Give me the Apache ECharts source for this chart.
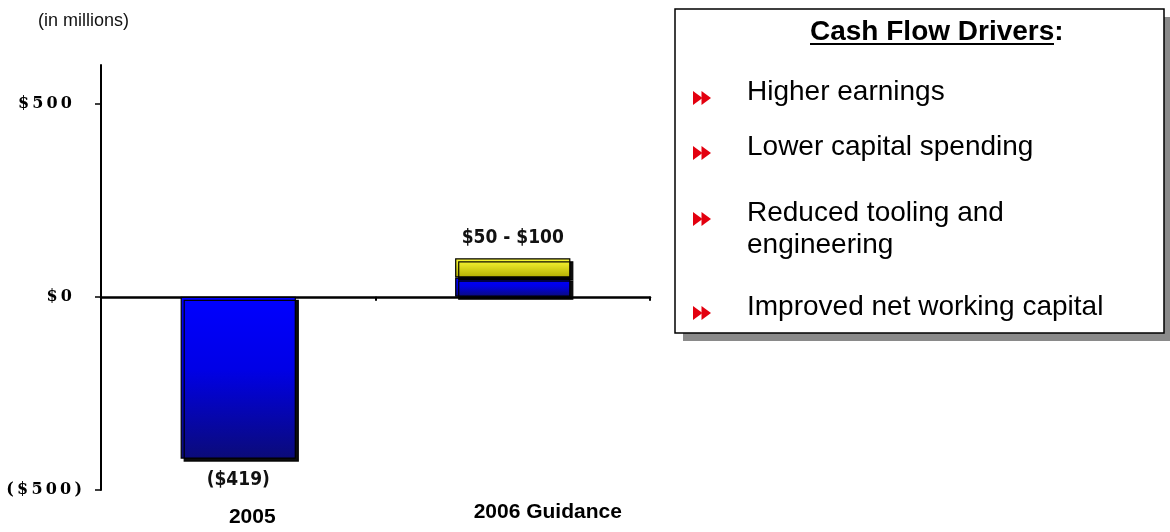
<!DOCTYPE html>
<html>
<head>
<meta charset="utf-8">
<script src="https://cdn.jsdelivr.net/npm/echarts@6/dist/echarts.min.js"></script>
<style>
  html, body { margin: 0; padding: 0; background: #ffffff; }
  #chart { width: 1170px; height: 532px; }
</style>
</head>
<body>
<div id="chart"></div>
<script>
// Free cash flow: 2005 actual and 2006 guidance range (in millions)
const categories = ['2005', '2006 Guidance'];
const baseValues = [-419, 50];        // 2005 actual, 2006 guidance low end
const rangeHighValues = [null, 100];  // 2006 guidance high end
const yTickValues = [-500, 0, 500];
const unitNote = '(in millions)';
const driversTitle = 'Cash Flow Drivers';
const driverItems = [
  ['Higher earnings'],
  ['Lower capital spending'],
  ['Reduced tooling and', 'engineering'],
  ['Improved net working capital']
];

// Yellow segment spans from the low end to the high end of the guidance
const rangeSpan = rangeHighValues.map((h, i) => (h == null ? null : h - baseValues[i]));

const money = v => (v < 0 ? '($' + (-v) + ')' : '$' + v);
const spaced = s => s.split('').join('\u2009');

const chart = echarts.init(document.getElementById('chart'), null, { renderer: 'canvas' });

const labelFont = {
  fontFamily: '"DejaVu Sans Condensed", "DejaVu Sans", sans-serif',
  fontWeight: 'bold',
  fontSize: 19,
  color: '#111'
};

const barEdge = {
  borderColor: '#000',
  borderWidth: 1.2,
  shadowColor: 'rgba(0,0,0,0.95)',
  shadowBlur: 0,
  shadowOffsetX: 3,
  shadowOffsetY: 3
};

// Bullet glyph: two small red triangles pointing right
function bullet(x, y) {
  const tri = dx => ({
    type: 'polygon',
    shape: { points: [[x + dx, y - 7], [x + dx + 9.5, y], [x + dx, y + 7]] },
    style: { fill: '#e3000f' }
  });
  return [tri(0), tri(8.5)];
}

// Right-hand text box with a flat grey drop shadow
const boxElements = [];
boxElements.push({
  type: 'rect',
  shape: { x: 683, y: 17, width: 489, height: 324 },
  style: { fill: '#8a8a8a' }
});
boxElements.push({
  type: 'rect',
  shape: { x: 675, y: 9, width: 489, height: 324 },
  style: { fill: '#ffffff', stroke: '#000', lineWidth: 1.5 }
});
boxElements.push({
  type: 'text', x: 810, y: 32,
  style: {
    text: driversTitle + ':', fill: '#000',
    font: 'bold 28px "Liberation Sans", Arial, sans-serif', verticalAlign: 'middle', align: 'left'
  }
});
boxElements.push({
  type: 'line',
  shape: { x1: 810, y1: 44, x2: 1054, y2: 44 },
  style: { stroke: '#000', lineWidth: 2 }
});

const lineCenters = [[92], [147], [213, 245], [307]];
driverItems.forEach((lines, i) => {
  boxElements.push(...bullet(693, lineCenters[i][0] + 6));
  lines.forEach((t, j) => {
    boxElements.push({
      type: 'text', x: 747, y: lineCenters[i][j],
      style: {
        text: t, fill: '#000',
        font: '28px "Liberation Sans", Arial, sans-serif', verticalAlign: 'middle', align: 'left'
      }
    });
  });
});

boxElements.push({
  type: 'text', x: 38, y: 21,
  style: {
    text: unitNote, fill: '#111',
    font: '18px "Liberation Sans", Arial, sans-serif', verticalAlign: 'middle', align: 'left'
  }
});

const option = {
  backgroundColor: '#ffffff',
  animation: false,
  grid: { left: 101, right: 520, top: 65, bottom: 42, containLabel: false },
  xAxis: [
    {
      type: 'category',
      data: categories,
      axisLine: { onZero: true, lineStyle: { color: '#000', width: 2.5 } },
      axisTick: { show: true, length: 4, lineStyle: { color: '#000', width: 2 } },
      axisLabel: { show: false },
      splitLine: { show: false }
    },
    {
      type: 'category',
      data: categories,
      position: 'bottom',
      axisLine: { show: false },
      axisTick: { show: false },
      splitLine: { show: false },
      axisLabel: {
        interval: 0,
        margin: 12,
        formatter: v => (v === '2005' ? '{a|' + v + '}' : '{b|' + v + '}'),
        rich: {
          a: {
            fontFamily: '"Liberation Sans", Arial, sans-serif', fontWeight: 'bold', fontSize: 21,
            color: '#000', padding: [5, 0, 0, 28]
          },
          b: {
            fontFamily: '"Liberation Sans", Arial, sans-serif', fontWeight: 'bold', fontSize: 21,
            color: '#000', padding: [0, 0, 0, 70]
          }
        }
      }
    }
  ],
  yAxis: {
    type: 'value',
    min: -500,
    max: 600,
    interval: 100,
    splitLine: { show: false },
    axisLine: { show: true, lineStyle: { color: '#000', width: 2 } },
    axisTick: {
      show: true, length: 6, customValues: yTickValues,
      lineStyle: { color: '#000', width: 1.5 }
    },
    axisLabel: {
      customValues: yTickValues,
      margin: 19,
      formatter: v => (v < 0 ? '{n|' + spaced(money(v)) + '}' : '{p|' + spaced(money(v)) + '}'),
      rich: {
        n: { fontFamily: '"DejaVu Serif", serif', fontWeight: 'bold', fontSize: 16, color: '#000' },
        p: { fontFamily: '"DejaVu Serif", serif', fontWeight: 'bold', fontSize: 16, color: '#000', padding: [0, 10, 0, 0] }
      }
    }
  },
  series: [
    {
      name: 'Cash flow',
      type: 'bar',
      stack: 'cf',
      xAxisIndex: 0,
      barWidth: '42%',
      data: baseValues,
      itemStyle: Object.assign({
        color: new echarts.graphic.LinearGradient(0, 0, 0, 1, [
          { offset: 0, color: '#0000ff' },
          { offset: 0.45, color: '#0000e6' },
          { offset: 1, color: '#0b0b78' }
        ])
      }, barEdge),
      label: Object.assign({
        show: true,
        position: 'bottom',
        distance: 12,
        formatter: p => (p.dataIndex === 0 ? money(p.value) : '')
      }, labelFont),
      z: 3
    },
    {
      name: 'Guidance range',
      type: 'bar',
      stack: 'cf',
      xAxisIndex: 0,
      barWidth: '42%',
      data: rangeSpan,
      itemStyle: Object.assign({
        color: new echarts.graphic.LinearGradient(0, 0, 0, 1, [
          { offset: 0, color: '#ffff3a' },
          { offset: 1, color: '#b3ad00' }
        ])
      }, barEdge),
      label: Object.assign({
        show: true,
        position: 'top',
        distance: 11,
        formatter: p => money(baseValues[p.dataIndex]) + ' - ' + money(rangeHighValues[p.dataIndex])
      }, labelFont),
      z: 3
    }
  ],
  graphic: boxElements
};

chart.setOption(option);
</script>
</body>
</html>
